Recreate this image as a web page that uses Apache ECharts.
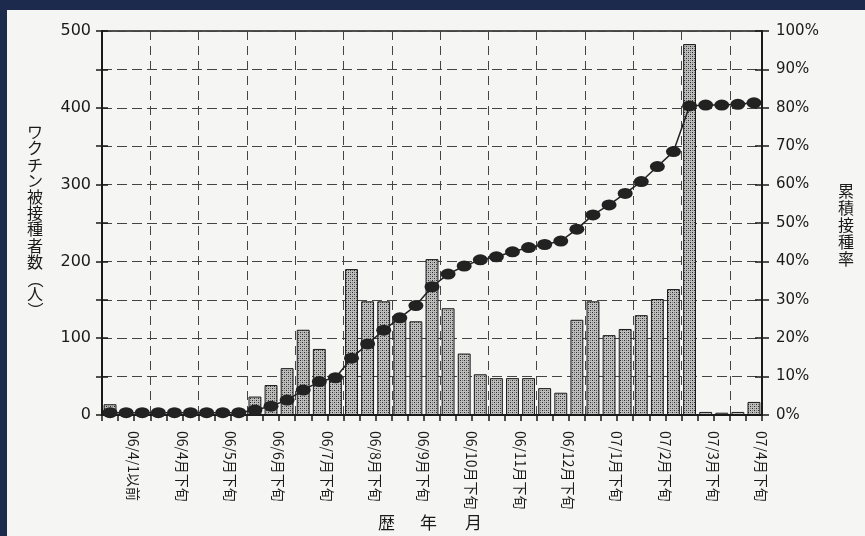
<!DOCTYPE html>
<html>
<head>
<meta charset="utf-8">
<script src="https://cdn.jsdelivr.net/npm/echarts@6/dist/echarts.min.js"></script>
<style>
html,body{margin:0;padding:0;background:#1c2a4e;}
#chart{width:865px;height:536px;}
</style>
</head>
<body>
<div id="chart"></div>
<script>
// ---- data ----
const categories = [
  "06/3月以前", "06/4/1以前",
  "06/4月上旬", "06/4月中旬", "06/4月下旬",
  "06/5月上旬", "06/5月中旬", "06/5月下旬",
  "06/6月上旬", "06/6月中旬", "06/6月下旬",
  "06/7月上旬", "06/7月中旬", "06/7月下旬",
  "06/8月上旬", "06/8月中旬", "06/8月下旬",
  "06/9月上旬", "06/9月中旬", "06/9月下旬",
  "06/10月上旬", "06/10月中旬", "06/10月下旬",
  "06/11月上旬", "06/11月中旬", "06/11月下旬",
  "06/12月上旬", "06/12月中旬", "06/12月下旬",
  "07/1月上旬", "07/1月中旬", "07/1月下旬",
  "07/2月上旬", "07/2月中旬", "07/2月下旬",
  "07/3月上旬", "07/3月中旬", "07/3月下旬",
  "07/4月上旬", "07/4月中旬", "07/4月下旬"
];
const tickLabels = [
  "06/4/1以前", "06/4月下旬", "06/5月下旬", "06/6月下旬", "06/7月下旬",
  "06/8月下旬", "06/9月下旬", "06/10月下旬", "06/11月下旬", "06/12月下旬",
  "07/1月下旬", "07/2月下旬", "07/3月下旬", "07/4月下旬"
];
const vaccinated = [
  14, 0, 0, 0, 0, 0, 0, 0, 0, 24,
  39, 61, 111, 86, 45, 190, 148, 148, 128, 122,
  203, 139, 80, 53, 48, 48, 48, 35, 29, 124,
  148, 104, 112, 130, 151, 164, 483, 4, 3, 4,
  17
];
const cumulativeRate = [
  0.6, 0.6, 0.6, 0.6, 0.6, 0.6, 0.6, 0.6, 0.6, 1.3,
  2.3, 3.9, 6.5, 8.7, 9.7, 14.8, 18.5, 22.1, 25.3, 28.5,
  33.4, 36.7, 38.8, 40.4, 41.2, 42.5, 43.6, 44.4, 45.3, 48.4,
  52.1, 54.7, 57.7, 60.8, 64.7, 68.6, 80.5, 80.7, 80.7, 80.9,
  81.3
];
const leftTicks = [0, 100, 200, 300, 400, 500];
const rightTicks = [0, 10, 20, 30, 40, 50, 60, 70, 80, 90, 100];

// ---- stipple pattern for bars ----
const pc = document.createElement('canvas');
pc.width = 4; pc.height = 4;
const g = pc.getContext('2d');
g.fillStyle = '#bebebe'; g.fillRect(0, 0, 4, 4);
g.fillStyle = '#2a2a2a';
g.fillRect(0, 0, 1, 1); g.fillRect(2, 2, 1, 1);
g.fillStyle = '#7a7a7a';
g.fillRect(2, 0, 1, 1); g.fillRect(0, 2, 1, 1);

const numFont = 'DejaVu Sans';
const cjkFont = '"Noto Sans CJK JP"';
const ink = '#1a1a1a';

const chart = echarts.init(document.getElementById('chart'), null, {renderer: 'canvas'});
const labelIdx = new Set(tickLabels.map(t => categories.indexOf(t)));

chart.setOption({
  animation: false,
  backgroundColor: '#1c2a4e',
  graphic: [
    {type: 'rect', shape: {x: 7, y: 10, width: 858, height: 526}, style: {fill: '#f5f5f3'}, z: -10, silent: true},
    {type: 'text', left: 27, top: 124, style: {text: 'ワ\nク\nチ\nン\n被\n接\n種\n者\n数', font: '16px ' + cjkFont, lineHeight: 16.2, fill: ink}},
    {type: 'text', x: 44, y: 272, rotation: -Math.PI / 2, style: {text: '（', font: '16px ' + cjkFont, fill: ink}},
    {type: 'text', left: 27, top: 286, style: {text: '人', font: '16px ' + cjkFont, fill: ink}},
    {type: 'text', x: 44, y: 302, rotation: -Math.PI / 2, style: {text: '）', font: '16px ' + cjkFont, fill: ink}},
    {type: 'text', left: 838, top: 182, style: {text: '累\n積\n接\n種\n率', font: '16px ' + cjkFont, lineHeight: 17, fill: ink}},
    {type: 'text', left: 378, top: 514, style: {text: '歴', font: '17px ' + cjkFont, fill: ink}},
    {type: 'text', left: 420, top: 514, style: {text: '年', font: '17px ' + cjkFont, fill: ink}},
    {type: 'text', left: 465, top: 514, style: {text: '月', font: '17px ' + cjkFont, fill: ink}}
  ],
  grid: {left: 102, right: 103, top: 31, bottom: 121, show: true, borderColor: ink, borderWidth: 1.5, backgroundColor: 'transparent'},
  xAxis: {
    type: 'category',
    data: categories,
    boundaryGap: true,
    axisLine: {lineStyle: {color: ink, width: 2}},
    axisTick: {show: true, interval: 0, length: 6, lineStyle: {color: ink, width: 1.5}},
    axisLabel: {
      interval: (i) => labelIdx.has(i),
      rotate: -90,
      align: 'left',
      verticalAlign: 'bottom',
      margin: 16,
      color: ink,
      fontFamily: cjkFont,
      fontSize: 14,
      lineHeight: 15
    },
    splitLine: {show: true, interval: (i) => i > 0 && i % 3 === 0, lineStyle: {color: '#444', type: [9, 6], width: 1}}
  },
  yAxis: [
    {
      type: 'value', position: 'left', min: 0, max: 500, interval: 50,
      axisLine: {show: true, lineStyle: {color: ink, width: 2}},
      axisTick: {show: true, length: 6, lineStyle: {color: ink, width: 1.5}},
      axisLabel: {formatter: v => leftTicks.includes(v) ? String(v) : '', color: ink, fontFamily: numFont, fontSize: 16, margin: 11},
      splitLine: {show: false}
    },
    {
      type: 'value', position: 'right', min: 0, max: 100, interval: 10,
      axisLine: {show: true, lineStyle: {color: ink, width: 2}},
      axisTick: {show: true, length: 7, lineStyle: {color: ink, width: 1.5}},
      axisLabel: {formatter: v => rightTicks.includes(v) ? v + '%' : '', color: ink, fontFamily: numFont, fontSize: 15, margin: 14},
      splitLine: {show: true, lineStyle: {color: '#444', type: [10, 5], width: 1}}
    },
    {
      type: 'value', position: 'left', min: 0, max: 500, interval: 50,
      axisLine: {show: false}, axisLabel: {show: false}, splitLine: {show: false},
      axisTick: {show: true, inside: true, length: 6, lineStyle: {color: ink, width: 1.5}}
    },
    {
      type: 'value', position: 'right', min: 0, max: 100, interval: 10,
      axisLine: {show: false}, axisLabel: {show: false}, splitLine: {show: false},
      axisTick: {show: true, inside: true, length: 7, lineStyle: {color: ink, width: 1.5}}
    }
  ],
  series: [
    {
      type: 'bar',
      name: 'ワクチン被接種者数',
      data: vaccinated,
      yAxisIndex: 0,
      barCategoryGap: '20%',
      itemStyle: {color: {image: pc, repeat: 'repeat'}, borderColor: ink, borderWidth: 1},
      z: 2
    },
    {
      type: 'line',
      name: '累積接種率',
      data: cumulativeRate,
      yAxisIndex: 1,
      symbol: 'circle',
      symbolSize: [15, 11],
      showAllSymbol: true,
      itemStyle: {color: '#222'},
      lineStyle: {color: '#222', width: 1.5},
      z: 5
    }
  ]
});
</script>
</body>
</html>
